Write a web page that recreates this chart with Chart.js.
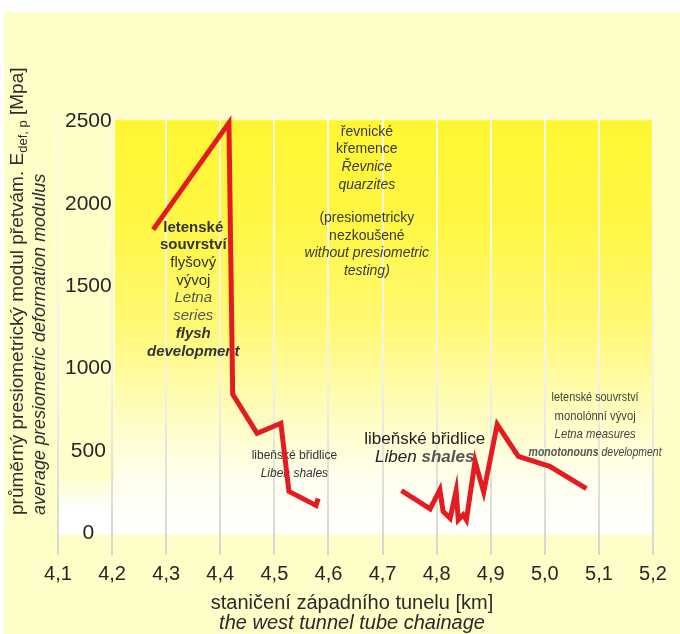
<!DOCTYPE html>
<html>
<head>
<meta charset="utf-8">
<style>
  html, body { margin: 0; padding: 0; background: #ffffff; }
  #wrap { width: 680px; height: 634px; }
</style>
<script src="https://cdn.jsdelivr.net/npm/chart.js@4/dist/chart.umd.min.js"></script>
</head>
<body>
<div id="wrap"><canvas id="c" width="680" height="634"></canvas></div>
<script>
// West tunnel tube: chainage [km] and average pressuremeter deformation modulus [MPa]
// Section 1 – Letná series (flysch development) into Libeň shales
const seg1Km  = [4.276, 4.416, 4.423, 4.468, 4.512, 4.527, 4.577, 4.581];
const seg1MPa = [1843, 2490, 845, 608, 669, 255, 170, 213];
// Section 2 – Libeň shales into Letná series (monotonous development)
const seg2Km  = [4.735, 4.788, 4.806, 4.812, 4.825, 4.836, 4.840, 4.849, 4.855, 4.871, 4.887, 4.912, 4.951, 5.009, 5.077];
const seg2MPa = [260, 150, 266, 134, 93, 260, 83, 114, 83, 438, 251, 661, 468, 408, 272];

// Axis ticks
const xTicks = [4.1, 4.2, 4.3, 4.4, 4.5, 4.6, 4.7, 4.8, 4.9, 5.0, 5.1, 5.2];
const yTicks = [0, 500, 1000, 1500, 2000, 2500];

const FONT = "'Liberation Sans', Arial, Helvetica, sans-serif";
Chart.defaults.font.family = FONT;

const lineStyle = {
  borderColor: '#e41c22',
  borderWidth: 5,
  borderJoinStyle: 'miter',
  borderCapStyle: 'butt',
  pointRadius: 0,
  tension: 0,
  fill: false
};

// Draws one line of text made of styled pieces, centred (or left-aligned) at (x, y),
// optionally squeezed horizontally to a given width.
function drawPieces(ctx, pieces, x, y, opts = {}) {
  let total = 0;
  const widths = pieces.map(p => {
    ctx.font = p.font;
    const w = ctx.measureText(p.text).width;
    total += w;
    return w;
  });
  const sx = opts.width ? opts.width / total : 1;
  ctx.save();
  ctx.translate(x, y);
  if (opts.rotate) ctx.rotate(opts.rotate);
  ctx.scale(sx, 1);
  ctx.textAlign = 'left';
  ctx.textBaseline = 'middle';
  let cx = opts.align === 'left' ? 0 : -total / 2;
  pieces.forEach((p, i) => {
    ctx.font = p.font;
    ctx.fillStyle = p.color;
    ctx.fillText(p.text, cx, p.dy || 0);
    cx += widths[i];
  });
  ctx.restore();
}

const f = (style, size) => `${style} ${size}px ${FONT}`;

// Geological notes placed on the chart: anchor in data units, lines offset in px
const notes = [
  { km: 4.350, mpa: 1855, lines: [
    { dy: 0,     pieces: [{ text: 'letenské',  font: f('bold', 15), color: '#333' }] },
    { dy: 17.5,  pieces: [{ text: 'souvrství', font: f('bold', 15), color: '#333' }] },
    { dy: 35,    pieces: [{ text: 'flyšový',   font: f('normal', 15), color: '#333' }] },
    { dy: 53,    pieces: [{ text: 'vývoj',     font: f('normal', 15), color: '#333' }] },
    { dy: 70.5,  pieces: [{ text: 'Letna',     font: f('italic', 15), color: '#555' }] },
    { dy: 88,    pieces: [{ text: 'series',    font: f('italic', 15), color: '#555' }] },
    { dy: 106,   pieces: [{ text: 'flysh',     font: f('italic bold', 15), color: '#333' }] },
    { dy: 124,   pieces: [{ text: 'development', font: f('italic bold', 15), color: '#333' }] }
  ]},
  { km: 4.671, mpa: 2433, lines: [
    { dy: 0,     pieces: [{ text: 'řevnické',  font: f('normal', 14), color: '#3a3a3a' }] },
    { dy: 16.5,  pieces: [{ text: 'křemence',  font: f('normal', 14), color: '#3a3a3a' }] },
    { dy: 34.5,  pieces: [{ text: 'Řevnice',   font: f('italic', 14), color: '#3a3a3a' }] },
    { dy: 52.5,  pieces: [{ text: 'quarzites', font: f('italic', 14), color: '#3a3a3a' }] },
    { dy: 86,    pieces: [{ text: '(presiometricky', font: f('normal', 14), color: '#3a3a3a' }] },
    { dy: 104,   pieces: [{ text: 'nezkoušené', font: f('normal', 14), color: '#3a3a3a' }] },
    { dy: 121,   pieces: [{ text: 'without presiometric', font: f('italic', 14), color: '#3a3a3a' }] },
    { dy: 138.5, pieces: [{ text: 'testing)',  font: f('italic', 14), color: '#3a3a3a' }] }
  ]},
  { km: 4.537, mpa: 474, lines: [
    { dy: 0,  pieces: [{ text: 'libeňské břidlice', font: f('normal', 12), color: '#333' }] },
    { dy: 18, pieces: [{ text: 'Liben shales',      font: f('italic', 12), color: '#333' }] }
  ]},
  { km: 4.778, mpa: 572, lines: [
    { dy: 0,  pieces: [{ text: 'libeňské břidlice', font: f('normal', 17), color: '#222' }] },
    { dy: 18, pieces: [{ text: 'Liben ',  font: f('italic', 17), color: '#222' },
                       { text: 'shales',  font: f('italic bold', 17), color: '#555' }] }
  ]},
  { km: 5.093, mpa: 827, lines: [
    { dy: 0,  width: 87,  pieces: [{ text: 'letenské souvrství', font: f('normal', 13), color: '#444' }] },
    { dy: 19, width: 81,  pieces: [{ text: 'monolónní vývoj',    font: f('normal', 13), color: '#444' }] },
    { dy: 37, width: 81,  pieces: [{ text: 'Letna measures',     font: f('italic', 13), color: '#444' }] },
    { dy: 55, width: 133, pieces: [{ text: 'monotonouns ', font: f('italic bold', 13), color: '#555' },
                                   { text: 'development',  font: f('italic', 13), color: '#444' }] }
  ]}
];

// Page and plot-area background
const backgroundPlugin = {
  id: 'background',
  beforeDraw(chart) {
    const { ctx } = chart;
    const xs = chart.scales.x, ys = chart.scales.y;
    ctx.save();
    ctx.fillStyle = '#ffffff';
    ctx.fillRect(0, 0, chart.width, chart.height);
    ctx.fillStyle = '#fefec9';
    ctx.fillRect(4, 12, chart.width - 4, chart.height - 12);

    const left = xs.getPixelForValue(4.2) + 3;
    const right = xs.getPixelForValue(5.2);
    const top = ys.getPixelForValue(2500) - 1;
    const bottom = ys.getPixelForValue(0) + 1;
    const g = ctx.createLinearGradient(0, top, 0, bottom);
    g.addColorStop(0, 'rgb(255,246,50)');
    g.addColorStop(0.25, 'rgb(255,247,68)');
    g.addColorStop(0.5, 'rgb(255,249,118)');
    g.addColorStop(0.7, 'rgb(255,252,188)');
    g.addColorStop(0.86, 'rgb(255,255,236)');
    g.addColorStop(1, 'rgb(255,255,255)');
    ctx.fillStyle = g;
    ctx.fillRect(left, top, right - left, bottom - top);

    // white fade under the value labels column
    const l2 = xs.getPixelForValue(4.1);
    const g2 = ctx.createLinearGradient(0, bottom - 60, 0, bottom);
    g2.addColorStop(0, 'rgba(255,255,255,0)');
    g2.addColorStop(0.6, 'rgba(255,255,255,1)');
    g2.addColorStop(1, 'rgba(255,255,255,1)');
    ctx.fillStyle = g2;
    ctx.fillRect(l2, bottom - 60, left - l2, 60);
    ctx.restore();
  }
};

// Notes and axis titles
const textPlugin = {
  id: 'texts',
  beforeDatasetsDraw(chart) {
    const { ctx } = chart;
    const xs = chart.scales.x, ys = chart.scales.y;
    notes.forEach(n => {
      const x = xs.getPixelForValue(n.km);
      const y = ys.getPixelForValue(n.mpa);
      n.lines.forEach(l => drawPieces(ctx, l.pieces, x, y + l.dy, { width: l.width }));
    });

    // vertical axis title (two lines, reading bottom to top)
    drawPieces(ctx, [
      { text: 'průměrný presiometrický modul přetvám. E', font: f('normal', 19), color: '#2e2e2e' },
      { text: 'def, p', font: f('normal', 13), color: '#2e2e2e', dy: 5 },
      { text: ' [Mpa]', font: f('normal', 19), color: '#2e2e2e' }
    ], 18, 515, { rotate: -Math.PI / 2, align: 'left' });
    drawPieces(ctx, [
      { text: 'average presiometric deformation modulus', font: f('italic', 18), color: '#2e2e2e' }
    ], 40, 515, { rotate: -Math.PI / 2, align: 'left' });

    // horizontal axis title
    const cx = 352;
    drawPieces(ctx, [{ text: 'staničení západního tunelu [km]', font: f('normal', 20), color: '#2a2a2a' }], cx, 603);
    drawPieces(ctx, [{ text: 'the west tunnel tube chainage', font: f('italic', 20), color: '#2a2a2a' }], cx, 623);
  }
};

// Vertical grid lines: pale over the yellow band, light grey near the bottom
let gridGradient = null;
function gridColor(context) {
  const chart = context.chart;
  const area = chart.chartArea;
  if (!area) return '#e0e0da';
  if (!gridGradient) {
    gridGradient = chart.ctx.createLinearGradient(0, area.top, 0, area.bottom);
    gridGradient.addColorStop(0, 'rgb(250,250,232)');
    gridGradient.addColorStop(0.6, 'rgb(242,242,232)');
    gridGradient.addColorStop(0.85, 'rgb(222,222,218)');
    gridGradient.addColorStop(1, 'rgb(214,214,210)');
  }
  return gridGradient;
}

const toPoints = (xs, ys) => xs.map((x, i) => ({ x, y: ys[i] }));

new Chart(document.getElementById('c'), {
  type: 'line',
  data: {
    datasets: [
      Object.assign({ data: toPoints(seg1Km, seg1MPa) }, lineStyle),
      Object.assign({ data: toPoints(seg2Km, seg2MPa) }, lineStyle)
    ]
  },
  options: {
    responsive: false,
    animation: false,
    devicePixelRatio: 1,
    layout: { padding: { left: 44, right: 27, top: 113, bottom: 41 } },
    plugins: { legend: { display: false }, tooltip: { enabled: false } },
    scales: {
      x: {
        type: 'linear',
        min: 4.1,
        max: 5.2,
        afterBuildTicks: s => { s.ticks = xTicks.map(v => ({ value: v })); },
        grid: { color: gridColor, lineWidth: 2, drawTicks: false },
        border: { display: false },
        ticks: {
          padding: 7,
          color: '#262626',
          font: { size: 20 },
          maxRotation: 0,
          autoSkip: false,
          callback: v => Number(v).toFixed(1).replace('.', ',')
        }
      },
      y: {
        type: 'linear',
        min: -130,
        max: 2550,
        afterBuildTicks: s => { s.ticks = yTicks.map(v => ({ value: v })); },
        grid: { display: false, drawTicks: false },
        border: { display: false },
        ticks: {
          mirror: true,
          crossAlign: 'center',
          padding: 7,
          color: '#262626',
          font: { size: 21 },
          callback: v => String(v)
        }
      }
    }
  },
  plugins: [backgroundPlugin, textPlugin]
});
</script>
</body>
</html>
